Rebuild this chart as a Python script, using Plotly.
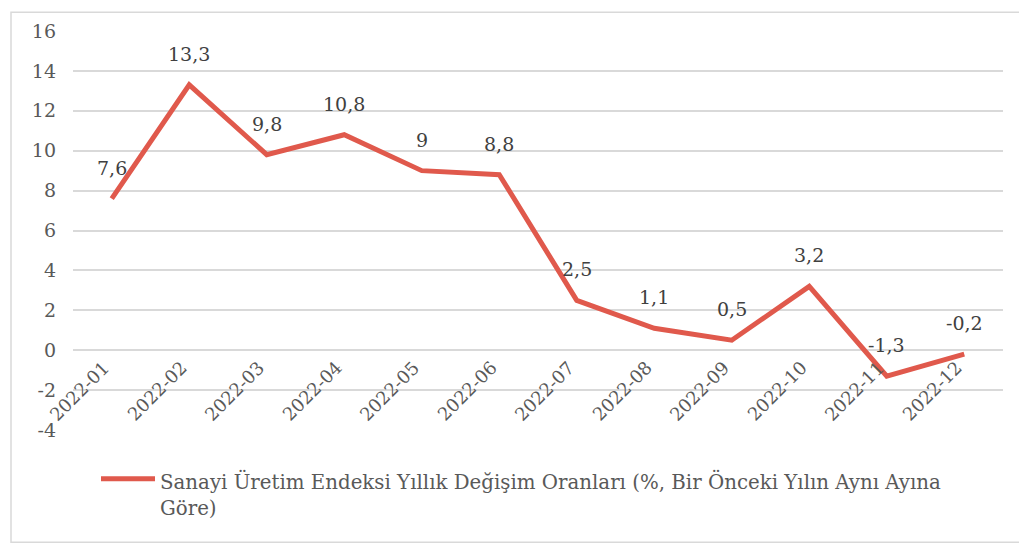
import plotly.graph_objects as go

months = ["2022-01", "2022-02", "2022-03", "2022-04", "2022-05", "2022-06",
          "2022-07", "2022-08", "2022-09", "2022-10", "2022-11", "2022-12"]
values = [7.6, 13.3, 9.8, 10.8, 9.0, 8.8, 2.5, 1.1, 0.5, 3.2, -1.3, -0.2]
value_labels = ["7,6", "13,3", "9,8", "10,8", "9", "8,8", "2,5", "1,1", "0,5", "3,2", "-1,3", "-0,2"]
y_ticks = [-4, -2, 0, 2, 4, 6, 8, 10, 12, 14, 16]
series_name = "Sanayi Üretim Endeksi Yıllık Değişim Oranları (%, Bir Önceki Yılın Aynı Ayına<br>Göre)"

LINE = "#E0594C"
FONT = "DejaVu Serif"
OFF = 8  # page body margin
W, H = 1027 - OFF, 545 - OFF
L, R, T = 73 - OFF, 32 - OFF, 28 - OFF
B = H - (430 - OFF)
pw, ph = W - L - R, H - T - B

def px_x(x):
    return (x - OFF - L) / pw

def px_y(y):
    return (H - B - (y - OFF)) / ph

fig = go.Figure()
fig.add_trace(go.Scatter(
    x=list(range(len(months))), y=values, mode="lines",
    line=dict(color=LINE, width=5), name=series_name, showlegend=False,
))

annotations = []
for i, (v, lab) in enumerate(zip(values, value_labels)):
    annotations.append(dict(x=i, y=v, xref="x", yref="y", text=lab, showarrow=False,
                            yanchor="bottom", yshift=18,
                            font=dict(family=FONT, size=19, color="#404040")))
for i, m in enumerate(months):
    annotations.append(dict(x=i, y=0, xref="x", yref="y", text=m, showarrow=False,
                            textangle=-45, xanchor="right", yanchor="top",
                            xshift=5, yshift=-4,
                            font=dict(family=FONT, size=18, color="#595959")))
# legend text
annotations.append(dict(x=px_x(158), y=px_y(467), xref="paper", yref="paper",
                        text=series_name, showarrow=False, xanchor="left", yanchor="top",
                        align="left",
                        font=dict(family=FONT, size=19.8, color="#595959")))

shapes = [
    dict(type="rect", xref="paper", yref="paper",
         x0=px_x(11), x1=px_x(1024), y0=px_y(543), y1=px_y(9),
         line=dict(color="#D9D9D9", width=1.5), fillcolor="rgba(0,0,0,0)", layer="below"),
    dict(type="line", xref="paper", yref="paper",
         x0=px_x(101), x1=px_x(155), y0=px_y(479), y1=px_y(479),
         line=dict(color=LINE, width=5)),
]

fig.update_layout(
    width=W, height=H,
    margin=dict(l=L, r=R, t=T, b=B),
    paper_bgcolor="white", plot_bgcolor="white",
    showlegend=False,
    xaxis=dict(range=[-0.5, len(months) - 0.5], showticklabels=False, showgrid=False,
               zeroline=False, showline=False, ticks=""),
    yaxis=dict(range=[-4, 16], tickvals=y_ticks, ticktext=[str(t) for t in y_ticks],
               showgrid=True, gridcolor="#D9D9D9", gridwidth=1.5, zeroline=False,
               showline=False, ticks="", ticklabelstandoff=16,
               tickfont=dict(family=FONT, size=19, color="#595959")),
    annotations=annotations,
    shapes=shapes,
)

fig.write_html("out.html")
